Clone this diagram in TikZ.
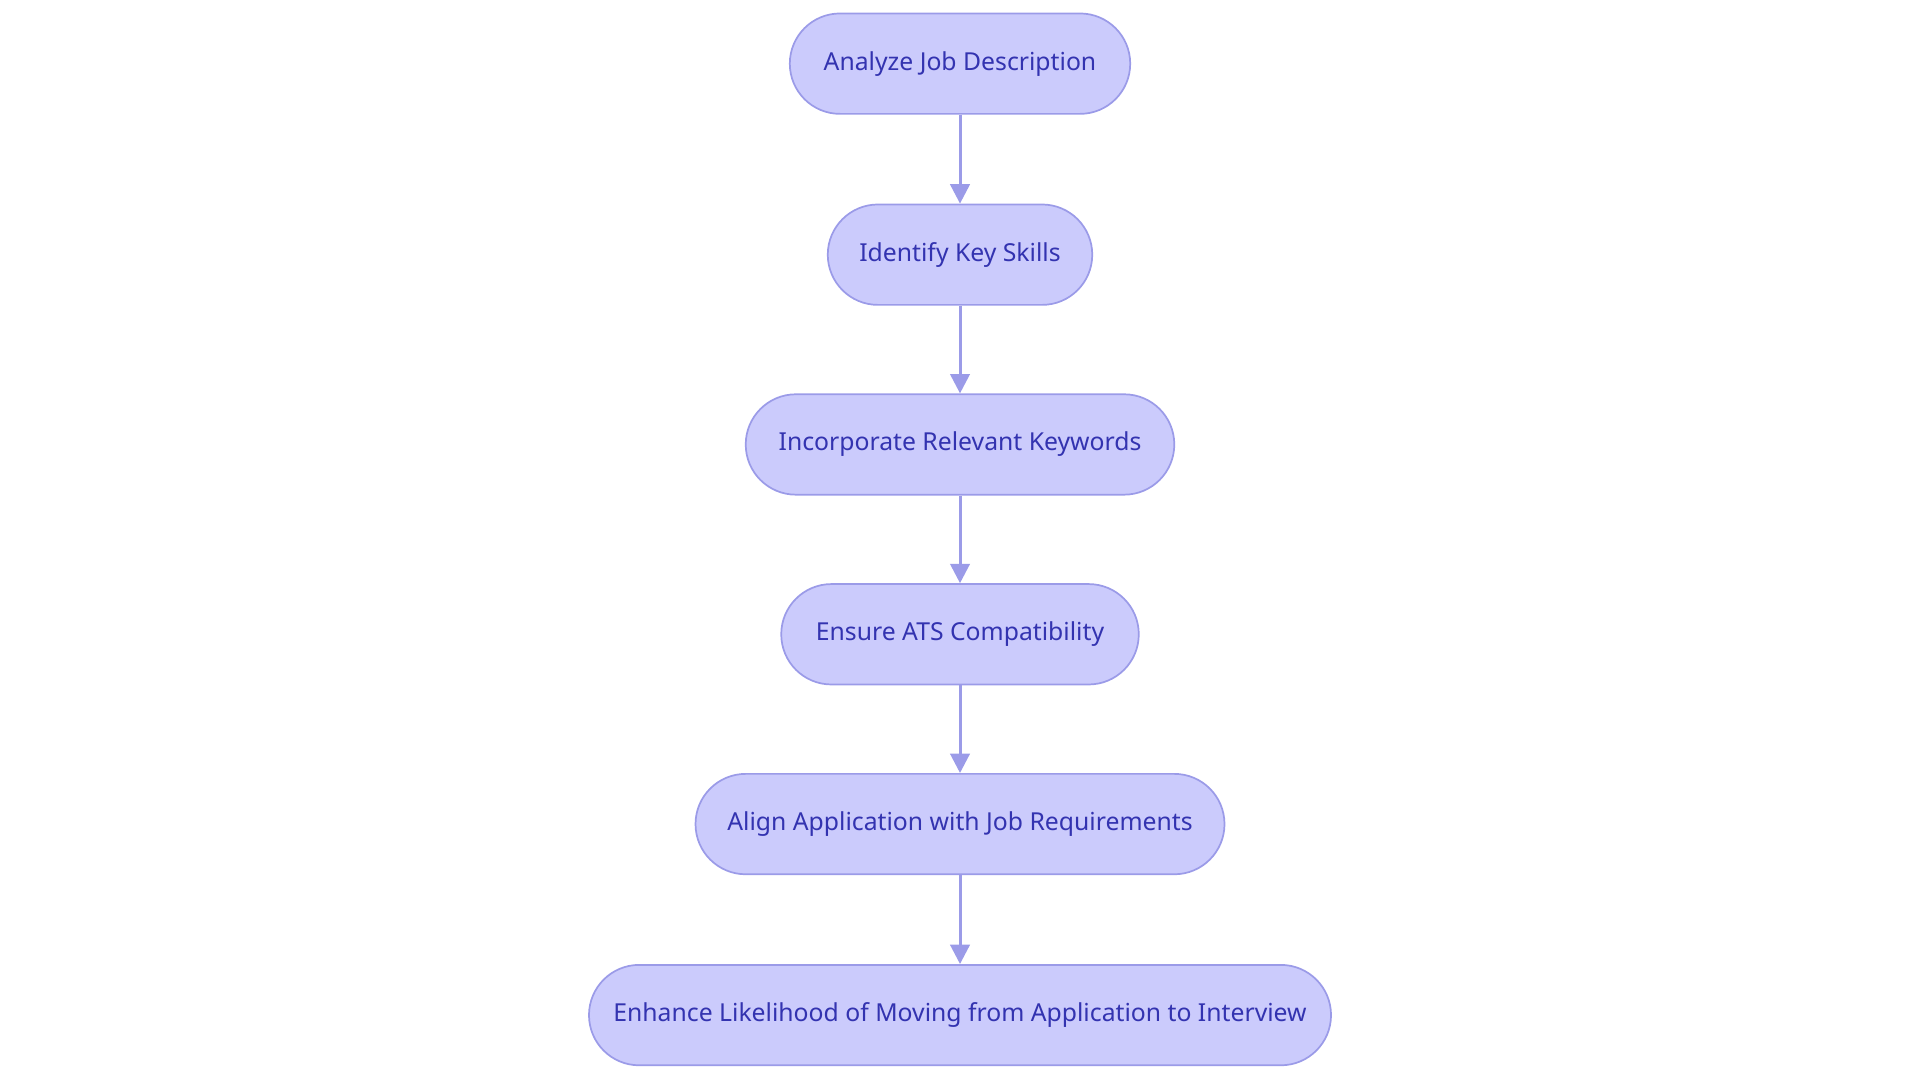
\documentclass[tikz,border=0pt]{standalone}
\usepackage{fontspec}
\setmainfont{Noto Sans}
\usetikzlibrary{arrows.meta}

\definecolor{stepfill}{HTML}{CBCBFC}
\definecolor{stepline}{HTML}{9B9BE8}
\definecolor{steptext}{HTML}{3333B0}

\tikzset{
  stage/.style={draw=stepline, fill=stepfill, line width=0.8pt, rounded corners=0.82cm,
    minimum height=1.64cm, text=steptext, font=\fontsize{11.5}{13}\selectfont},
  flow/.style={draw=stepline, line width=1.4pt, -{Triangle[length=9pt,width=9pt]}}
}

\begin{document}
\begin{tikzpicture}
    \useasboundingbox (0,0) rectangle (31.36,17.64);

    \node[stage, minimum width=5.56cm] (analyze) at (15.68,16.60) {Analyze Job Description};
    \node[stage, minimum width=4.32cm] (skills) at (15.68,13.48) {Identify Key Skills};
    \node[stage, minimum width=7.00cm] (keywords) at (15.68,10.38) {Incorporate Relevant Keywords};
    \node[stage, minimum width=5.84cm] (ats) at (15.68,7.28) {Ensure ATS Compatibility};
    \node[stage, minimum width=8.64cm] (align) at (15.68,4.18) {Align Application with Job Requirements};
    \node[stage, minimum width=12.12cm] (enhance) at (15.68,1.06) {Enhance Likelihood of Moving from Application to Interview};

    \draw[flow] (analyze) -- (skills);
    \draw[flow] (skills) -- (keywords);
    \draw[flow] (keywords) -- (ats);
    \draw[flow] (ats) -- (align);
    \draw[flow] (align) -- (enhance);
\end{tikzpicture}
\end{document}
